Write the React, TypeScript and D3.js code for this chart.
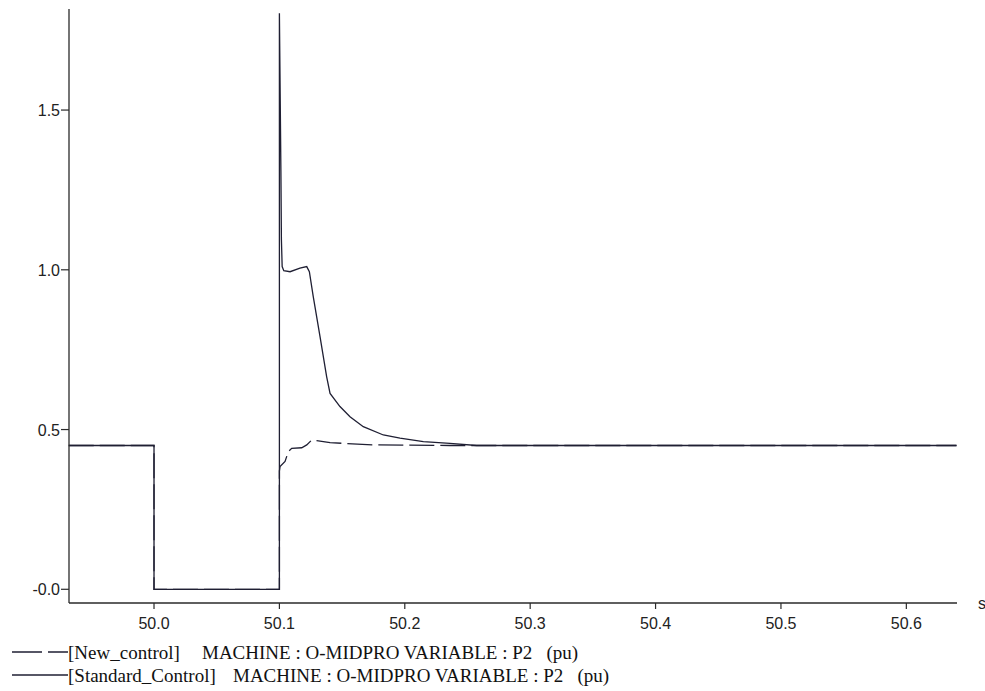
import React from "react";
import * as d3 from "d3";

// ---- data ----
const xTicks = [50.0, 50.1, 50.2, 50.3, 50.4, 50.5, 50.6];
const xTickLabels = ["50.0", "50.1", "50.2", "50.3", "50.4", "50.5", "50.6"];
const yTicks = [1.5, 1.0, 0.5, 0.0];
const yTickLabels = ["1.5", "1.0", "0.5", "-0.0"];

const standardT = [
  49.932, 50.0, 50.0, 50.1, 50.1, 50.1012, 50.1016, 50.1022, 50.1035, 50.1085,
  50.1164, 50.1218, 50.1239, 50.127, 50.1324, 50.1377, 50.1404, 50.1483,
  50.1563, 50.1669, 50.1829, 50.1962, 50.2148, 50.236, 50.2573, 50.64,
];
const standardV = [
  0.45, 0.45, 0.0, 0.0, 1.803, 1.31, 1.095, 1.01, 0.997, 0.994,
  1.005, 1.01, 0.994, 0.916, 0.791, 0.665, 0.613, 0.572,
  0.54, 0.509, 0.483, 0.473, 0.462, 0.457, 0.45, 0.45,
];

const newT = [
  49.932, 50.0, 50.0, 50.1, 50.1, 50.1005, 50.1045, 50.1071, 50.1098, 50.1178,
  50.1218, 50.1257, 50.1297, 50.1404, 50.175, 50.236, 50.64,
];
const newV = [
  0.45, 0.45, 0.0, 0.0, 0.37, 0.384, 0.4, 0.431, 0.441, 0.443,
  0.452, 0.467, 0.465, 0.459, 0.452, 0.45, 0.45,
];

const legendNames = ["[New_control]", "[Standard_Control]"];
const legendVar = "MACHINE : O-MIDPRO VARIABLE : P2\u00a0\u00a0\u00a0(pu)";

export default function App() {
  const W = 985;
  const H = 691;
  const left = 69;
  const right = 957;
  const top = 9;
  const bottom = 603;

  const x = d3.scaleLinear().domain([49.9322, 50.6404]).range([left, right]);
  const y = d3.scaleLinear().domain([-0.0429, 1.8163]).range([bottom, top]);

  const line = d3
    .line<[number, number]>()
    .x((d) => x(d[0]))
    .y((d) => y(d[1]));

  const stdPts = standardT.map((t, i) => [t, standardV[i]] as [number, number]);
  const newPts = newT.map((t, i) => [t, newV[i]] as [number, number]);

  const lineColor = "#1f1f33";
  const axisColor = "#2a2a2a";
  const tickFont = "'Liberation Sans', Arial, sans-serif";
  const legendFont = "'Liberation Serif', 'Times New Roman', serif";

  return (
    <svg
      width={W}
      height={H}
      style={{ position: "absolute", left: 0, top: 0, background: "#fff" }}
    >
      <rect x={0} y={0} width={W} height={H} fill="#fff" />
      {/* series */}
      <path d={line(stdPts) || ""} fill="none" stroke={lineColor} strokeWidth={1.3} />
      <path
        d={line(newPts) || ""}
        fill="none"
        stroke={lineColor}
        strokeWidth={1.3}
        strokeDasharray="25,6"
      />

      {/* axes */}
      <line x1={left} x2={left} y1={top} y2={bottom} stroke={axisColor} strokeWidth={1.3} />
      <line x1={left} x2={right} y1={bottom} y2={bottom} stroke={axisColor} strokeWidth={1.3} />

      {yTicks.map((v, i) => (
        <g key={"y" + i}>
          <line x1={left - 8} x2={left} y1={y(v)} y2={y(v)} stroke={axisColor} strokeWidth={1.2} />
          <text
            x={left - 9}
            y={y(v) + 6}
            textAnchor="end"
            fontFamily={tickFont}
            fontSize={16}
            fill="#222"
          >
            {yTickLabels[i]}
          </text>
        </g>
      ))}

      {xTicks.map((v, i) => (
        <g key={"x" + i}>
          <line x1={x(v)} x2={x(v)} y1={bottom} y2={bottom + 6} stroke={axisColor} strokeWidth={1.2} />
          <text
            x={x(v)}
            y={629}
            textAnchor="middle"
            fontFamily={tickFont}
            fontSize={16}
            fill="#222"
          >
            {xTickLabels[i]}
          </text>
        </g>
      ))}
      <text x={978} y={609} fontFamily={tickFont} fontSize={16} fill="#222">
        s
      </text>

      {/* legend */}
      <line x1={12} x2={68} y1={652} y2={652} stroke={lineColor} strokeWidth={1.3} strokeDasharray="30,6" />
      <text x={68} y={659} fontFamily={legendFont} fontSize={19} fill="#111">
        {legendNames[0]}
      </text>
      <text x={202} y={659} fontFamily={legendFont} fontSize={19} fill="#111">
        {legendVar}
      </text>

      <line x1={12} x2={68} y1={675} y2={675} stroke={lineColor} strokeWidth={1.3} />
      <text x={68} y={682} fontFamily={legendFont} fontSize={19} fill="#111">
        {legendNames[1]}
      </text>
      <text x={233} y={682} fontFamily={legendFont} fontSize={19} fill="#111">
        {legendVar}
      </text>
    </svg>
  );
}
